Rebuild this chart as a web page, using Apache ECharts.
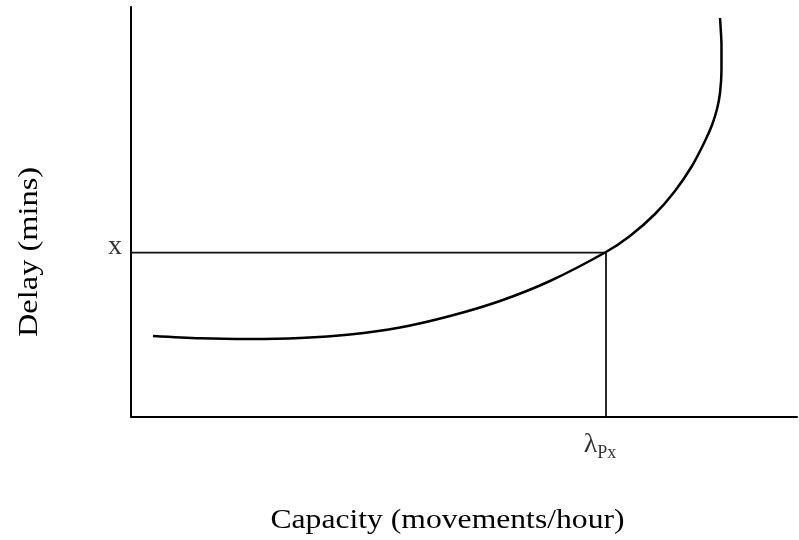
<!DOCTYPE html>
<html>
<head>
<meta charset="utf-8">
<script src="https://cdn.jsdelivr.net/npm/echarts@6/dist/echarts.min.js"></script>
<style>
html,body{margin:0;padding:0;background:#fff;}
#main{width:799px;height:540px;}
</style>
</head>
<body>
<div id="main"></div>
<script>
// Delay curve (capacity, delay) in arbitrary axis units 0..100
const capacity = [3.30, 10.36, 17.87, 25.38, 32.88, 40.39, 47.90, 55.41, 62.91, 71.32, 74.92, 78.68, 81.68, 84.23, 86.19, 87.24, 87.99, 88.44, 88.66, 88.66, 88.51, 88.44];
const delay    = [19.66, 19.10, 18.93, 19.17, 20.02, 21.73, 24.54, 28.21, 33.09, 40.17, 44.08, 49.45, 55.07, 61.17, 67.28, 71.18, 75.09, 79.00, 84.62, 90.72, 95.60, 97.31];
// reference point
const refCapacity = 71.32;
const refDelay = 40;
const refLabelX = '{a|λ}{b|Px}';
const refLabelY = 'x';
const xTitle = 'Capacity (movements/hour)';
const yTitle = 'Delay (mins)';

const serif = "'Liberation Serif','Times New Roman',serif";
const curve = capacity.map((c, i) => [c, delay[i]]);

const chart = echarts.init(document.getElementById('main'), null, {renderer: 'canvas'});
chart.setOption({
  animation: false,
  backgroundColor: '#fff',
  grid: {left: 131, right: 2, top: 7, bottom: 123.5, containLabel: false},
  xAxis: {
    type: 'value', min: 0, max: 100,
    axisLine: {show: true, onZero: false, lineStyle: {color: '#000', width: 2}},
    axisTick: {show: false}, axisLabel: {show: false}, splitLine: {show: false}
  },
  yAxis: {
    type: 'value', min: 0, max: 100,
    axisLine: {show: true, onZero: false, lineStyle: {color: '#000', width: 2}},
    axisTick: {show: false}, axisLabel: {show: false}, splitLine: {show: false}
  },
  series: [
    {
      type: 'line',
      data: [[0, refDelay], [refCapacity, refDelay], [refCapacity, 0]],
      symbol: 'none',
      lineStyle: {color: '#111', width: 1.8},
      silent: true, z: 2
    },
    {
      type: 'line',
      data: curve,
      symbol: 'none',
      smooth: 0.3,
      lineStyle: {color: '#000', width: 2.5},
      silent: true, z: 3
    },
    {
      type: 'scatter',
      symbolSize: 0,
      silent: true,
      data: [
        {value: [0, refDelay], label: {show: true, position: 'left', distance: 9, offset: [0, -6],
          formatter: refLabelY, fontFamily: serif, fontSize: 28, color: '#000'}},
        {value: [refCapacity, 0], label: {show: true, position: 'bottom', distance: 14, offset: [-6, 0],
          formatter: refLabelX, color: '#000',
          rich: {
            a: {fontFamily: serif, fontSize: 28, lineHeight: 28, verticalAlign: 'top', color: '#000'},
            b: {fontFamily: serif, fontSize: 18, lineHeight: 18, verticalAlign: 'top', padding: [14, 0, 0, 0], color: '#000'}
          }}}
      ]
    }
  ],
  graphic: [
    {
      type: 'text', x: 447.5, y: 521, scaleX: 1.13, scaleY: 1,
      style: {text: xTitle, x: 0, y: 0, textAlign: 'center', textVerticalAlign: 'middle',
        font: "28px " + serif, fill: '#000'}
    },
    {
      type: 'text', x: 30, y: 252, rotation: Math.PI / 2, scaleX: 1.2, scaleY: 1,
      style: {text: yTitle, x: 0, y: 0, textAlign: 'center', textVerticalAlign: 'middle',
        font: "27px " + serif, fill: '#000'}
    }
  ]
});
</script>
</body>
</html>
